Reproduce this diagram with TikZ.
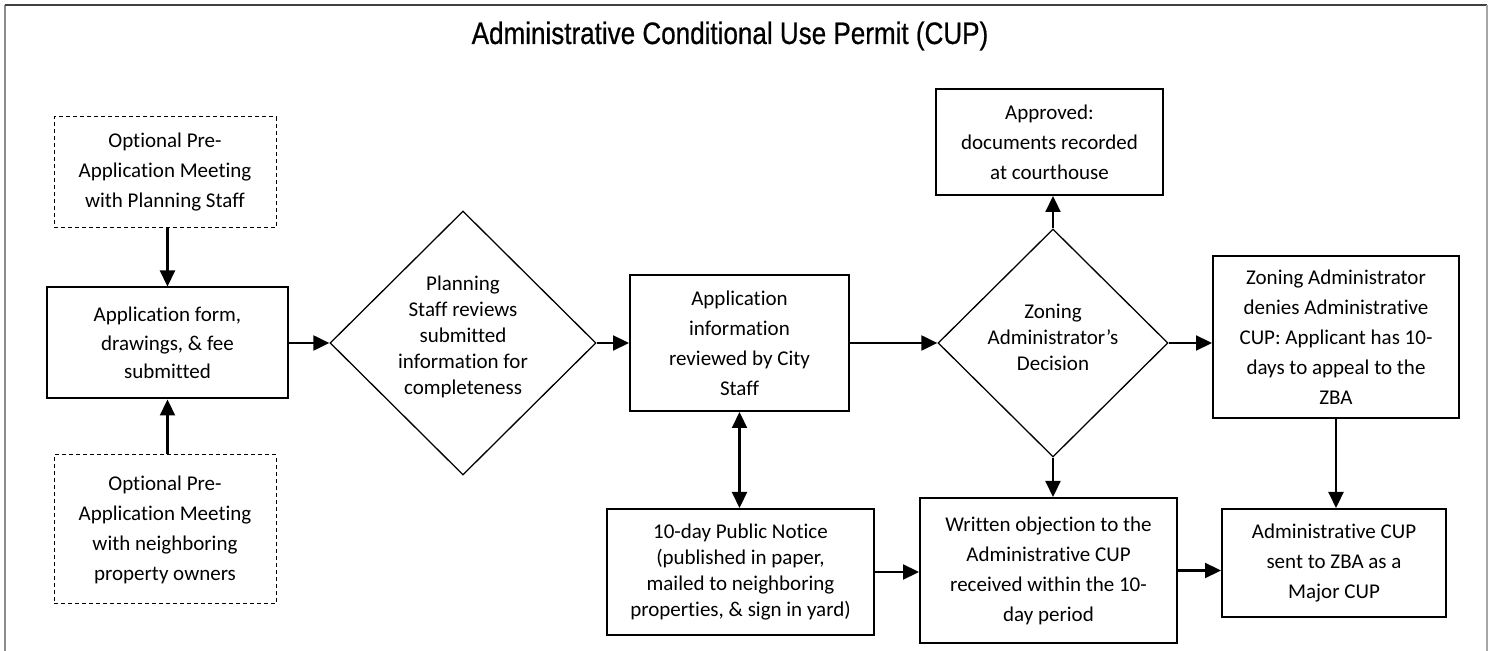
\documentclass[tikz,border=0pt]{standalone}
\usepackage{fontspec}
\setmainfont[Ligatures=NoCommon]{Carlito}
\newfontfamily\titlefont[FakeStretch=0.84,FakeBold=0.6]{Liberation Sans}
\usetikzlibrary{arrows.meta,shapes.geometric}
\begin{document}
\begin{tikzpicture}[x=0.5pt,y=-0.5pt,
 box/.style={draw,line width=1pt,inner sep=0pt,align=center,font=\fontsize{10.5}{15}\selectfont},
 dbox/.style={draw,line width=0.5pt,dash pattern=on 2pt off 1.5pt,inner sep=0pt,align=center,font=\fontsize{10.5}{15}\selectfont},
 dia/.style={draw,shape=diamond,line width=0.65pt,inner sep=0pt},
 lbl/.style={align=center,font=\fontsize{10.5}{13}\selectfont,inner sep=0pt},
 arr/.style={line width=1.1pt,-{Triangle[length=8pt,width=7.5pt]}},
 darr/.style={line width=1.1pt,{Triangle[length=8pt,width=7.5pt]}-{Triangle[length=8pt,width=7.5pt]}}]
\useasboundingbox (0,0) rectangle (1494,651);
% frame
\coordinate (ftl) at (5,5);
\coordinate (ftr) at (1487,5);
\coordinate (fbl) at (5,651);
\coordinate (fbr) at (1487,651);
\draw[line width=1pt,color=black!45] (fbl) -- (ftl);
\draw[line width=0.6pt,color=black!75] (ftl) -- (ftr);
\draw[line width=0.8pt,color=black!35] (ftr) -- (fbr);
% title
\node[font=\titlefont\fontsize{15.5}{18}\selectfont,anchor=base,inner sep=0pt] (title) at (730,44) {Administrative Conditional Use Permit (CUP)};
% nodes
\node[dbox,minimum width=111pt,minimum height=55.5pt] (pre1) at (165,172.5) {Optional Pre-\\Application Meeting\\with Planning Staff};
\node[box,minimum width=120.5pt,minimum height=55.5pt,font=\fontsize{10.5}{14.3}\selectfont] (app) at (167.5,343) {Application form,\\drawings, \& fee\\submitted};
\node[dbox,minimum width=111pt,minimum height=74.5pt] (pre2) at (165,529.5) {Optional Pre-\\Application Meeting\\with neighboring\\property owners};
\node[dia,minimum width=133pt,minimum height=132pt] (d1) at (463,343) {};
\node[lbl] (d1t) at (463,337) {Planning\\Staff reviews\\submitted\\information for\\completeness};
\node[box,minimum width=109.5pt,minimum height=68pt] (rev) at (739.5,343) {Application\\information\\reviewed by City\\Staff};
\node[box,minimum width=133.5pt,minimum height=63pt,font=\fontsize{10.5}{13}\selectfont] (pn) at (740.5,572) {10-day Public Notice\\(published in paper,\\mailed to neighboring\\properties, \& sign in yard)};
\node[dia,minimum width=115pt,minimum height=114pt] (d2) at (1053,343) {};
\node[lbl] (d2t) at (1053,337) {Zoning\\Administrator’s\\Decision};
\node[box,minimum width=113.5pt,minimum height=53pt] (appr) at (1049.5,142) {Approved:\\documents recorded\\at courthouse};
\node[box,minimum width=123pt,minimum height=81pt] (deny) at (1336,337) {Zoning Administrator\\denies Administrative\\CUP: Applicant has 10-\\days to appeal to the\\ZBA};
\node[box,minimum width=128.5pt,minimum height=72.5pt] (wr) at (1048.5,570.5) {Written objection to the\\Administrative CUP\\received within the 10-\\day period};
\node[box,minimum width=112pt,minimum height=54pt] (cup) at (1334,563) {Administrative CUP\\sent to ZBA as a\\Major CUP};
% connectors
\draw[arr] (pre1.south -| app.north) -- (app.north);
\draw[arr] (pre2.north -| app.south) -- (app.south);
\draw[arr] (app.east) -- (d1.west);
\draw[arr] (d1.east) -- (rev.west);
\draw[darr] (rev.south) -- (rev.south |- pn.north);
\draw[arr] (rev.east) -- (d2.west);
\draw[arr] (d2.north) -- (d2.north |- appr.south);
\draw[arr] (d2.east) -- (d2.east -| deny.west);
\draw[arr] (d2.south) -- (d2.south |- wr.north);
\draw[arr] (deny.south) -- (deny.south |- cup.north);
\draw[arr] (pn.east) -- (pn.east -| wr.west);
\draw[arr] (wr.east) -- (wr.east -| cup.west);
\end{tikzpicture}
\end{document}
